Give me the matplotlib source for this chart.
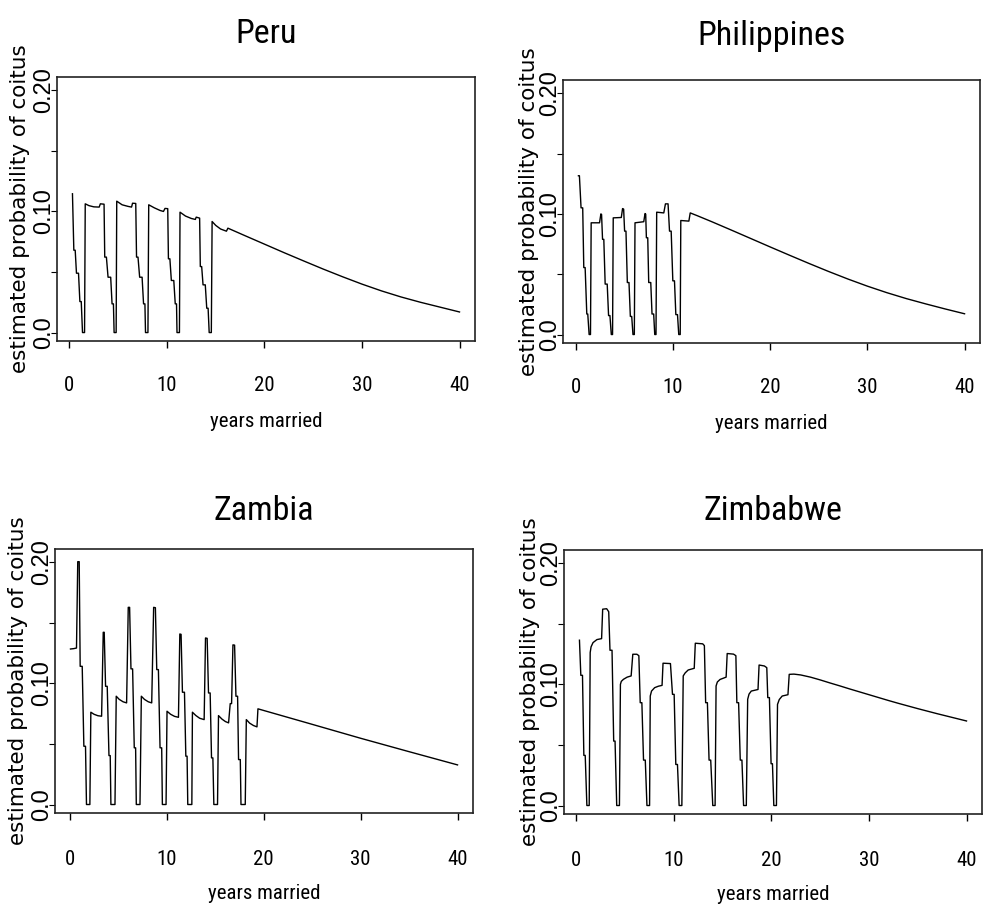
import matplotlib
matplotlib.use("Agg")
import matplotlib.pyplot as plt
from matplotlib import font_manager as fm

# estimated probability of coitus by years married
countries = ["Peru", "Philippines", "Zambia", "Zimbabwe"]

peru_years = [0.31, 0.45, 0.59, 0.72, 0.93, 1.07, 1.21, 1.34, 1.55,
              1.62, 2.0, 2.5, 3.05, 3.17, 3.55,
              3.62, 3.79, 3.96, 4.23, 4.37, 4.51, 4.58, 4.79,
              4.85, 5.4, 6.0, 6.37, 6.47, 6.8,
              6.88, 7.03, 7.2, 7.45, 7.6, 7.74, 7.8, 8.05,
              8.13, 8.7, 9.3, 9.64, 9.8, 10.08,
              10.15, 10.3, 10.45, 10.7, 10.85, 10.98, 11.03, 11.28,
              11.34, 11.9, 12.5, 12.91, 13.0, 13.35,
              13.42, 13.56, 13.7, 13.93, 14.08, 14.22, 14.33, 14.55,
              14.63, 15.0, 15.5, 16.1, 16.25, 18.0, 20.0, 22.0, 24.0, 26.0,
              28.0, 30.0, 32.0, 34.0, 36.0, 38.0, 40.0]
peru_prob = [0.1146, 0.068, 0.068, 0.049, 0.049, 0.0256, 0.0256, 0.0, 0.0,
             0.1063, 0.1048, 0.1038, 0.1036, 0.1063, 0.106,
             0.0623, 0.0623, 0.0457, 0.0457, 0.0237, 0.0237, 0.0, 0.0,
             0.1085, 0.1055, 0.1042, 0.1036, 0.1068, 0.1066,
             0.0623, 0.0623, 0.0457, 0.0457, 0.0237, 0.0237, 0.0, 0.0,
             0.1055, 0.103, 0.1008, 0.1000, 0.1025, 0.1023,
             0.0609, 0.0609, 0.043, 0.043, 0.0237, 0.0237, 0.0, 0.0,
             0.0994, 0.0962, 0.0942, 0.0934, 0.0953, 0.0945,
             0.0545, 0.0545, 0.0394, 0.0394, 0.0201, 0.0201, 0.0, 0.0,
             0.0917, 0.0885, 0.0855, 0.0837, 0.0862, 0.0800, 0.0730, 0.0660, 0.0592, 0.0525,
             0.0461, 0.0400, 0.0344, 0.0294, 0.0250, 0.0210, 0.0170]

phil_years = [0.28, 0.38, 0.55, 0.72, 0.83, 0.97, 1.14, 1.24, 1.38, 1.52,
              1.59, 2.45, 2.59, 2.66,
              2.76, 2.89, 3.03, 3.24, 3.38, 3.52, 3.66, 3.79,
              3.86, 4.69, 4.82, 4.93,
              5.03, 5.17, 5.31, 5.48, 5.62, 5.76, 5.89, 6.03,
              6.1, 7.0, 7.13, 7.2,
              7.27, 7.41, 7.51, 7.72, 7.85, 8.02, 8.13, 8.26,
              8.33, 9.06, 9.23, 9.5,
              9.65, 9.82, 9.99, 10.16, 10.3, 10.47, 10.6, 10.75,
              10.81, 11.64, 11.78, 12.5, 14.0, 16.0, 18.0, 20.0, 22.0, 24.0, 26.0,
              28.0, 30.0, 32.0, 34.0, 36.0, 38.0, 40.0]
phil_prob = [0.1316, 0.1316, 0.105, 0.105, 0.0555, 0.0555, 0.017, 0.017, 0.0, 0.0,
             0.0926, 0.0926, 0.1, 0.0995,
             0.0789, 0.0789, 0.0418, 0.0418, 0.0157, 0.0157, 0.0, 0.0,
             0.0967, 0.097, 0.1044, 0.104,
             0.0857, 0.0857, 0.0431, 0.0431, 0.015, 0.015, 0.0, 0.0,
             0.0926, 0.0935, 0.1003, 0.0998,
             0.0802, 0.0802, 0.0431, 0.0431, 0.017, 0.017, 0.0, 0.0,
             0.1014, 0.1008, 0.1083, 0.1083,
             0.0857, 0.0857, 0.0445, 0.0445, 0.0165, 0.0165, 0.0, 0.0,
             0.0945, 0.094, 0.1008, 0.0985, 0.0935, 0.0866, 0.0796, 0.0726, 0.0657, 0.0589, 0.0523,
             0.0460, 0.0401, 0.0347, 0.0298, 0.0254, 0.0212, 0.0172]

zambia_years = [0.07, 0.4, 0.69, 0.82, 0.97, 1.07, 1.28, 1.45, 1.62, 1.72, 2.07,
                2.17, 2.5, 2.9, 3.28, 3.45, 3.55, 3.69, 3.86, 4.04, 4.17, 4.24, 4.66,
                4.79, 5.1, 5.5, 5.86, 6.03, 6.17, 6.31, 6.48, 6.65, 6.79, 6.86, 7.24,
                7.38, 7.7, 8.1, 8.45, 8.65, 8.83, 8.97, 9.14, 9.31, 9.48, 9.55, 9.93,
                10.03, 10.4, 10.8, 11.21, 11.35, 11.48, 11.62, 11.83, 11.97, 12.1, 12.17, 12.59,
                12.65, 13.0, 13.4, 13.86, 14.0, 14.17, 14.31, 14.48, 14.62, 14.76, 14.86, 15.24,
                15.34, 15.7, 16.05, 16.38, 16.55, 16.69, 16.83, 17.0, 17.14, 17.31, 17.41, 17.59,
                17.66, 18.1,
                18.21, 18.55, 18.95, 19.31, 19.41, 24.48, 30.0, 34.83, 40.0]
zambia_prob = [0.1284, 0.1287, 0.1292, 0.2005, 0.2005, 0.1141, 0.1141, 0.0481, 0.0481, 0.0, 0.0,
               0.0762, 0.0745, 0.0733, 0.0729, 0.1422, 0.1422, 0.0976, 0.0976, 0.0404, 0.0404, 0.0, 0.0,
               0.0894, 0.0868, 0.0848, 0.0839, 0.1628, 0.1628, 0.112, 0.112, 0.0468, 0.0468, 0.0, 0.0,
               0.0894, 0.0868, 0.0848, 0.0839, 0.1628, 0.1625, 0.1114, 0.1114, 0.0468, 0.0468, 0.0, 0.0,
               0.077, 0.0745, 0.0728, 0.072, 0.1408, 0.1405, 0.0927, 0.0927, 0.0399, 0.0399, 0.0, 0.0,
               0.0762, 0.0735, 0.0712, 0.0701, 0.1375, 0.1372, 0.0921, 0.0921, 0.0385, 0.0385, 0.0, 0.0,
               0.0734, 0.0705, 0.0685, 0.0674, 0.0833, 0.0833, 0.1318, 0.1316, 0.0894, 0.0894, 0.0371, 0.0371,
               0.0, 0.0,
               0.0701, 0.0672, 0.0652, 0.0641, 0.079, 0.0674, 0.0547, 0.044, 0.0327]

zimb_years = [0.31, 0.45, 0.62, 0.76, 0.9, 1.07, 1.31,
              1.41, 1.5, 1.7, 2.1, 2.58, 2.69, 3.1, 3.31,
              3.44, 3.65, 3.82, 3.96, 4.13, 4.41,
              4.51, 4.6, 4.82, 5.2, 5.61, 5.78, 6.2, 6.4,
              6.54, 6.71, 6.88, 7.06, 7.23, 7.5,
              7.57, 7.7, 8.02, 8.4, 8.78, 8.88, 9.64,
              9.85, 10.02, 10.19, 10.36, 10.53, 10.81,
              10.95, 11.15, 11.46, 12.08, 12.19, 12.95, 13.12,
              13.25, 13.43, 13.6, 13.77, 13.98, 14.22,
              14.32, 14.45, 14.73, 15.35, 15.46, 16.11, 16.35,
              16.45, 16.63, 16.8, 16.97, 17.14, 17.42,
              17.56, 17.7, 17.93, 18.62, 18.73, 19.28, 19.52,
              19.62, 19.79, 19.96, 20.1, 20.24, 20.51,
              20.62, 20.8, 21.1, 21.69, 21.82, 22.3, 23.0, 24.0, 25.0, 26.0, 27.0, 28.0,
              29.0, 30.0, 31.0, 32.0, 33.0, 34.0, 35.0, 36.0, 37.0, 38.0, 39.0, 40.0]
zimb_prob = [0.1365, 0.1075, 0.1075, 0.0414, 0.0414, 0.0, 0.0,
             0.1263, 0.131, 0.1345, 0.137, 0.1378, 0.1621, 0.1625, 0.160,
             0.1282, 0.1282, 0.0532, 0.0532, 0.0, 0.0,
             0.1, 0.1025, 0.1042, 0.106, 0.107, 0.1249, 0.1249, 0.1237,
             0.0849, 0.0849, 0.0375, 0.0375, 0.0, 0.0,
             0.0904, 0.0945, 0.0973, 0.0985, 0.0992, 0.1175, 0.1172,
             0.0918, 0.0918, 0.0339, 0.0339, 0.0, 0.0,
             0.107, 0.1095, 0.1119, 0.1133, 0.134, 0.1335, 0.132,
             0.0849, 0.0849, 0.0375, 0.0375, 0.0, 0.0,
             0.0987, 0.102, 0.1041, 0.106, 0.1255, 0.125, 0.1237,
             0.0849, 0.0849, 0.0375, 0.0375, 0.0, 0.0,
             0.0877, 0.092, 0.0945, 0.0958, 0.116, 0.1152, 0.1138,
             0.0891, 0.0891, 0.0345, 0.0345, 0.0, 0.0,
             0.0835, 0.0875, 0.0904, 0.0915, 0.1083, 0.1085, 0.1078, 0.1060, 0.1037, 0.1012, 0.0988, 0.0963,
             0.0939, 0.0915, 0.0891, 0.0867, 0.0844, 0.0822, 0.0800, 0.0779, 0.0758, 0.0738, 0.0718, 0.0698]

x_ticks = [0, 10, 20, 30, 40]
y_ticks = [0.0, 0.05, 0.10, 0.15, 0.20]
y_tick_labels = ["0.0", "", "0.10", "", "0.20"]

series = [(peru_years, peru_prob), (phil_years, phil_prob),
          (zambia_years, zambia_prob), (zimb_years, zimb_prob)]

# pick a narrow sans for the horizontal texts, fall back to Liberation Sans
installed = {f.name for f in fm.fontManager.ttflist}
narrow_pref = ["Liberation Sans Narrow", "Roboto Condensed", "Archivo Narrow"]
NARROW = [f for f in narrow_pref if f in installed][:1] + ["Liberation Sans", "DejaVu Sans"]

fig = plt.figure(figsize=(9.91, 9.18), dpi=100)

# axes boxes in figure fractions (left, bottom, width, height)
boxes = [(0.0575, 0.6285, 0.4218, 0.2876),
         (0.5681, 0.6264, 0.4208, 0.2865),
         (0.0555, 0.1144, 0.4218, 0.2876),
         (0.5691, 0.1133, 0.4218, 0.2876)]
title_pads = [24.5, 25.0, 21.0, 21.5]
xtick_pads = [20, 20, 22, 22]
ylabel_x = [-0.064, -0.057, -0.064, -0.057]

for i, name in enumerate(countries):
    years, prob = series[i]
    ax = fig.add_axes(boxes[i])
    ax.plot(years, prob, color="black", lw=1.0)

    # R style 4% extension of the data range
    lo, hi = min(years), max(years)
    ext = 0.04 * (hi - lo)
    ax.set_xlim(lo - ext, hi + ext)
    ax.set_ylim(-0.007, 0.211)

    ax.set_xticks(x_ticks)
    ax.set_xticklabels([str(t) for t in x_ticks], family=NARROW, fontsize=15)
    ax.set_yticks(y_ticks)
    ax.set_yticklabels(y_tick_labels, family="Liberation Sans", fontsize=17,
                       rotation=90, va="center")
    ax.tick_params(axis="x", direction="out", length=5, width=1.0, pad=xtick_pads[i])
    ax.tick_params(axis="y", direction="out", length=4.5, width=0.8, pad=-3)

    for sp in ax.spines.values():
        sp.set_linewidth(1.2)
        sp.set_color("#222222")

    ax.set_title(name, family=NARROW, fontsize=24.5, pad=title_pads[i])
    ax.set_xlabel("years married", family=NARROW, fontsize=15)
    ax.xaxis.set_label_coords(0.5, -0.27)
    ax.set_ylabel("estimated probability of coitus", family="DejaVu Sans", fontsize=15.5)
    ax.yaxis.set_label_coords(ylabel_x[i], 0.5)

fig.savefig("out.png", dpi=100)
